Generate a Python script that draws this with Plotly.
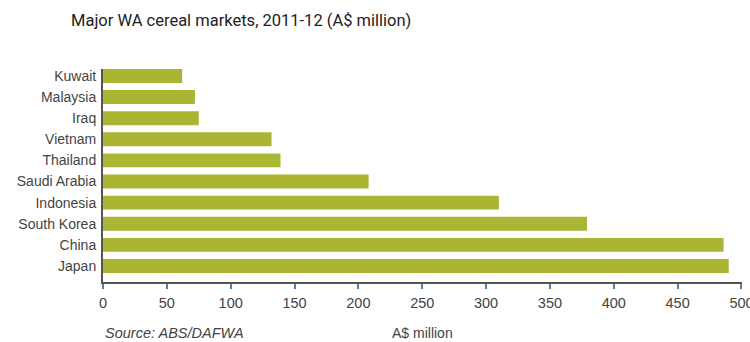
import plotly.graph_objects as go

countries = ["Japan", "China", "South Korea", "Indonesia", "Saudi Arabia",
             "Thailand", "Vietnam", "Iraq", "Malaysia", "Kuwait"]
values = [490, 486, 379, 310, 208, 139, 132, 75, 72, 62]
x_ticks = [0, 50, 100, 150, 200, 250, 300, 350, 400, 450, 500]

FONT = "Liberation Sans, Arial, sans-serif"
TITLE_FONT = "Roboto, Liberation Sans, sans-serif"

fig = go.Figure(go.Bar(
    x=values, y=countries, orientation="h",
    marker=dict(color="#AAB534", line=dict(width=0)),
    hoverinfo="x+y",
))

fig.update_layout(
    width=750, height=342,
    margin=dict(l=103, r=8, t=69, b=60, autoexpand=False),
    paper_bgcolor="white", plot_bgcolor="white",
    bargap=0.34,
    showlegend=False,
    font=dict(family=FONT, color="#444444", size=14),
    xaxis=dict(
        range=[0, 500.4], tickvals=x_ticks, automargin=False,
        showgrid=False, zeroline=False,
        showline=True, linecolor="#555555", linewidth=2,
        ticks="outside", ticklen=5, tickwidth=1.5, tickcolor="#5a7fa0",
        ticklabelstandoff=2, ticklabeloverflow="allow",
        tickfont=dict(size=14.5, color="#444444"),
    ),
    yaxis=dict(
        categoryorder="array", categoryarray=countries,
        range=[-0.76, 9.33], automargin=False,
        showgrid=False, zeroline=False,
        showline=True, linecolor="#555555", linewidth=2,
        ticks="", ticklabelstandoff=2,
        tickfont=dict(size=14, color="#444444"),
    ),
    annotations=[
        dict(text="Major WA cereal markets, 2011-12 (A$ million)",
             xref="paper", yref="paper", x=-0.053, y=1.0, yshift=49,
             xanchor="left", yanchor="middle", showarrow=False,
             font=dict(size=16.5, color="#222222", family=TITLE_FONT)),
        dict(text="<i>Source: ABS/DAFWA</i>",
             xref="paper", yref="paper", x=0, y=0, yshift=-51,
             xanchor="left", yanchor="middle", showarrow=False,
             font=dict(size=14.5, color="#444444", family=FONT)),
        dict(text="A$ million",
             xref="paper", yref="paper", x=0.5, y=0, yshift=-51,
             xanchor="center", yanchor="middle", showarrow=False,
             font=dict(size=14, color="#444444", family=FONT)),
    ],
)

fig.write_html("out.html")
